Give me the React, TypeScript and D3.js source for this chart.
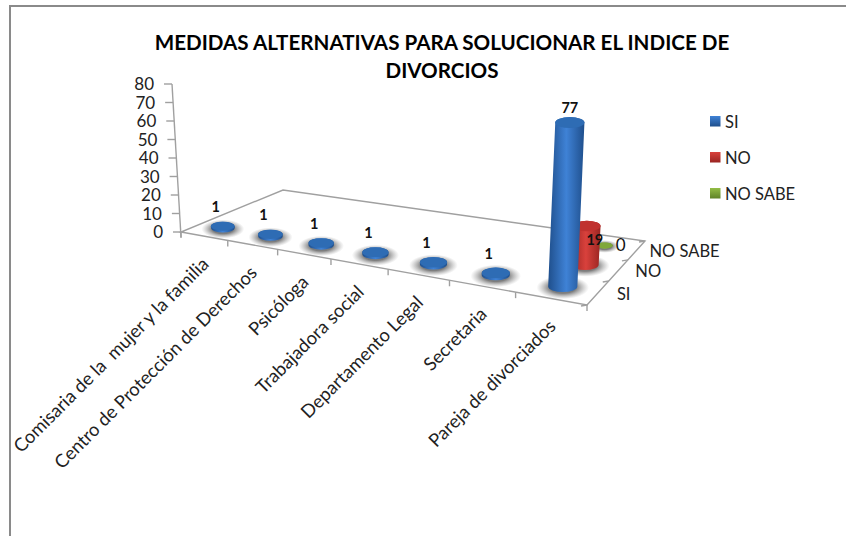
import React from 'react';
import * as d3 from 'd3';

const categories = ['Comisaria de la  mujer y la familia', 'Centro de Protección de Derechos', 'Psicóloga', 'Trabajadora social', 'Departamento Legal', 'Secretaria', 'Pareja de divorciados'];
const seriesNames = ['SI', 'NO', 'NO SABE'];
const siValues = [1, 1, 1, 1, 1, 1, 77];
const noValues = [null, null, null, null, null, null, 19];
const noSabeValues = [null, null, null, null, null, null, 0];
const valueTicks = [0, 10, 20, 30, 40, 50, 60, 70, 80];
const titleLines = ['MEDIDAS ALTERNATIVAS PARA SOLUCIONAR EL INDICE DE', 'DIVORCIOS'];
const palette = [
  { top: '#2e6cb4', dark: '#1f4f8c', light: '#3f82d6' },
  { top: '#c0322f', dark: '#9a2522', light: '#d9413c' },
  { top: '#7fa83a', dark: '#5f8227', light: '#93bd45' },
];
const seriesWidth = [1, 1, 0.62];
const FONT = 'Lato, Carlito, Calibri, sans-serif';

// floor corners of the 3D plot
const FL: [number, number] = [181, 232];
const FR: [number, number] = [587, 305];
const BR: [number, number] = [645, 241];
const BL: [number, number] = [283, 190];

function homography() {
  const [x0, y0] = FL, [x1, y1] = FR, [x2, y2] = BR, [x3, y3] = BL;
  const dx1 = x1 - x2, dx2 = x3 - x2, sx = x0 - x1 + x2 - x3;
  const dy1 = y1 - y2, dy2 = y3 - y2, sy = y0 - y1 + y2 - y3;
  const det = dx1 * dy2 - dx2 * dy1;
  const g = (sx * dy2 - dx2 * sy) / det;
  const h = (dx1 * sy - sx * dy1) / det;
  const a = x1 - x0 + g * x1, b = x3 - x0 + h * x3, c = x0;
  const d = y1 - y0 + g * y1, e = y3 - y0 + h * y3, f = y0;
  return (u: number, v: number) => {
    const w = g * u + h * v + 1;
    return { x: (a * u + b * v + c) / w, y: (d * u + e * v + f) / w, w };
  };
}
const H = homography();

const uScale = d3.scaleBand<string>().domain(categories).range([0, 1]);
const vScale = d3.scaleBand<string>().domain(seriesNames).range([0, 1]);
const valueScale = d3.scaleLinear().domain([0, 80]).range([0, 148]);

function floor(cat: number, ser: string) {
  const u = (uScale(categories[cat]) ?? 0) + uScale.bandwidth() / 2;
  const v = (vScale(ser) ?? 0) + vScale.bandwidth() / 2;
  return H(u, v);
}
function depthRatio(w: number) {
  return H(0, 0).w / w;
}
function lift(p: { x: number; y: number; w: number }, value: number) {
  const h = valueScale(value) * Math.pow(depthRatio(p.w), 0.72);
  return { x: p.x + (p.x - 403) * 0.00027 * h, y: p.y - h };
}

function Cylinder({ cat, ser, value, i }: { cat: number; ser: string; value: number; i: number }) {
  const p = floor(cat, ser);
  const rx = 12 * depthRatio(p.w) * seriesWidth[i];
  const ry = rx * 0.38;
  const top = lift(p, value);
  const col = palette[i];
  const body = `M${p.x - rx},${p.y} A${rx},${ry} 0 0 0 ${p.x + rx},${p.y} L${top.x + rx},${top.y} A${rx},${ry} 0 0 0 ${top.x - rx},${top.y} Z`;
  return (
    <g>
      <ellipse cx={p.x} cy={p.y + 1} rx={rx * 1.8} ry={ry * 2.1} fill="url(#shadow)" />
      <path d={body} fill={`url(#g${i})`} />
      <ellipse cx={top.x} cy={top.y} rx={rx} ry={ry} fill={col.top} />
    </g>
  );
}

function ticksOnEdge(a: (t: number) => { x: number; y: number }, n: number) {
  return d3.range(n + 1).map((k) => a(k / n));
}

export default function App() {
  const front = ticksOnEdge((t) => H(t, 0), categories.length);
  const side = ticksOnEdge((t) => H(1, t), seriesNames.length);
  const axisPos = (val: number) => {
    const h = valueScale(val);
    return { x: FL[0] - (h / 148) * 9, y: FL[1] - h };
  };
  const dataSeries = [siValues, noValues, noSabeValues];
  const order = [2, 1, 0];
  const sideDx = [19, 17, 13];
  const valueLabelOffset = [[0, -13], [8, 16], [16, 3]];
  return (
    <svg width={846} height={536} style={{ position: 'absolute', left: 0, top: 0 }} fontFamily={FONT}>
      <defs>
        {palette.map((c, i) => (
          <linearGradient key={i} id={`g${i}`} x1="0" x2="1" y1="0" y2="0">
            <stop offset="0" stopColor={c.dark} />
            <stop offset="0.5" stopColor={c.light} />
            <stop offset="1" stopColor={c.dark} />
          </linearGradient>
        ))}
        <radialGradient id="shadow">
          <stop offset="0.5" stopColor="#666" stopOpacity={0.85} />
          <stop offset="1" stopColor="#999" stopOpacity={0} />
        </radialGradient>
        {palette.map((c, i) => (
          <linearGradient key={i} id={`k${i}`} x1="0" x2="0" y1="0" y2="1">
            <stop offset="0" stopColor={c.light} />
            <stop offset="1" stopColor={c.dark} />
          </linearGradient>
        ))}
      </defs>
      <rect x={0} y={0} width={846} height={536} fill="#fff" />
      <path d="M10,536 V6 H846" fill="none" stroke="#8a8a8a" strokeWidth={2} />

      {titleLines.map((t, i) => (
        <text key={i} x={442} y={50 + i * 28} textAnchor="middle" fontSize={20.6} fontWeight={700} fill="#000">{t}</text>
      ))}

      <g stroke="#a0a0a0" strokeWidth={1.4} fill="none">
        <path d={`M${FL} L${FR} L${BR} L${BL} Z`} />
        <path d={`M${FL[0]},${FL[1] + 5} L${axisPos(80).x},${axisPos(80).y}`} />
        {valueTicks.map((v) => {
          const p = axisPos(v);
          return <line key={v} x1={p.x - 8} x2={p.x} y1={p.y} y2={p.y} />;
        })}
        {front.map((p, i) => <line key={i} x1={p.x} x2={p.x} y1={p.y} y2={p.y + 6} />)}
        {side.map((p, i) => <line key={i} x1={p.x} x2={p.x - 6} y1={p.y} y2={p.y + 1} />)}
      </g>

      {valueTicks.map((v) => {
        const p = axisPos(v);
        return <text key={v} x={p.x - 18} y={p.y + 6} textAnchor="end" fontSize={17} fill="#222">{v}</text>;
      })}

      {order.map((s) =>
        dataSeries[s].map((val, c) => val === null ? null : (
          <Cylinder key={`${s}-${c}`} cat={c} ser={seriesNames[s]} value={val} i={s} />
        ))
      )}

      {order.map((s) =>
        dataSeries[s].map((val, c) => {
          if (val === null) return null;
          const t = lift(floor(c, seriesNames[s]), val);
          const [ox, oy] = valueLabelOffset[s];
          const small = s === 0 && c < 6;
          return (
            <text key={`l${s}-${c}`} x={t.x + ox - (small ? 7 : 0)} y={t.y + oy - (small ? 1 : -3)}
              textAnchor="middle" fontSize={s === 2 ? 17 : 14.5} fontWeight={s === 2 ? 400 : 700} fill="#111">{val}</text>
          );
        })
      )}

      {categories.map((c, i) => {
        const a = front[i], b = front[i + 1];
        const x = (a.x + b.x) / 2 + 5.5, y = (a.y + b.y) / 2 + 29;
        return (
          <text key={c} transform={`translate(${x},${y}) rotate(-45)`} textAnchor="end" fontSize={18.4} fill="#222" xmlSpace="preserve">{c}</text>
        );
      })}

      {seriesNames.map((n, i) => {
        const a = side[i], b = side[i + 1];
        return <text key={n} x={(a.x + b.x) / 2 + sideDx[i]} y={(a.y + b.y) / 2 + 7} fontSize={16.5} fill="#222">{n}</text>;
      })}

      {seriesNames.map((n, i) => (
        <g key={n}>
          <rect x={710} y={116 + i * 36} width={10.5} height={10.5} fill={`url(#k${i})`} />
          <text x={725} y={127.5 + i * 36} fontSize={16.5} fill="#222">{n}</text>
        </g>
      ))}
    </svg>
  );
}
